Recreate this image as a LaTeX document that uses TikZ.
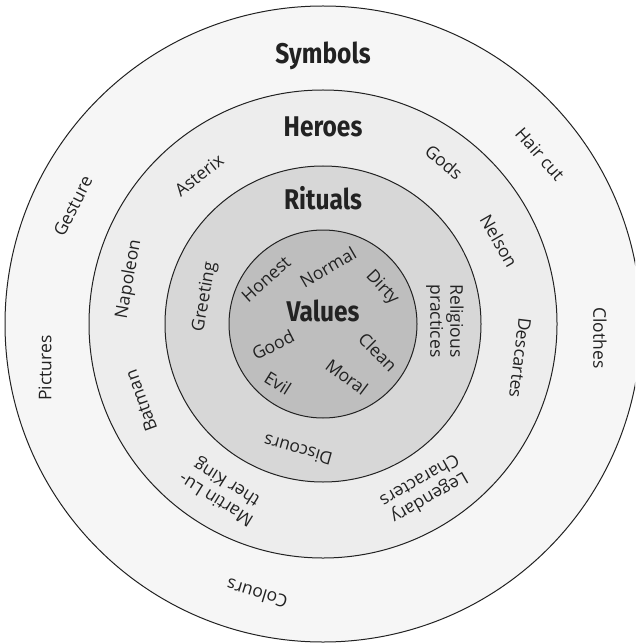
\documentclass[tikz,border=0pt]{standalone}
\usepackage{fontspec}
\setmainfont{Open Sans}
\newfontfamily\headfont{Fira Sans}
\definecolor{symfill}{HTML}{F6F6F6}
\definecolor{herofill}{HTML}{EDEDED}
\definecolor{ritfill}{HTML}{D7D7D7}
\definecolor{valfill}{HTML}{BEBEBE}
\definecolor{ink}{HTML}{222222}
% bold, slightly narrowed title lettering
\newcommand{\layertitle}[1]{\scalebox{0.86}[1]{#1}}
\begin{document}
\begin{tikzpicture}[x=1pt,y=-1pt,
  ring/.style={draw=ink, line width=1pt},
  layer/.style={font=\headfont\bfseries\fontsize{28.5}{30}\selectfont, text=ink, inner sep=0pt},
  item/.style={font=\fontsize{17.5}{20}\selectfont, text=ink, inner sep=0pt, align=center},
]
\useasboundingbox (0,0) rectangle (635,644);
\clip (0,0) rectangle (635,644);
\coordinate (c) at (323,324);

% onion layers, outside in
\filldraw[ring, fill=symfill]  (c) circle[radius=318pt];
\filldraw[ring, fill=herofill] (c) circle[radius=234pt];
\filldraw[ring, fill=ritfill]  (c) circle[radius=158pt];
\filldraw[ring, fill=valfill]  (c) circle[radius=94pt];

% layer titles
\node[layer] (symbols) at (323,56)  {\layertitle{Symbols}};
\node[layer] (heroes)  at (323,127) {\layertitle{Heroes}};
\node[layer] (rituals) at (323,198) {\layertitle{Rituals}};
\node[layer] (values)  at (323,311) {\layertitle{Values}};

% symbols
\node[item, rotate=63]  (gesture)  at (73,206)  {Gesture};
\node[item, rotate=90]  (pictures) at (45,368)  {Pictures};
\node[item, rotate=-49] (haircut)  at (540,154) {Hair cut};
\node[item, rotate=-90] (clothes)  at (600,338) {Clothes};
\node[item, rotate=163] (colours)  at (257,594) {Colours};

% heroes
\node[item, rotate=38]  (asterix)   at (199,175) {Asterix};
\node[item, rotate=80]  (napoleon)  at (129,279) {Napoleon};
\node[item, rotate=110] (batman)    at (141,401) {Batman};
\node[item, rotate=148] (martin)    at (222,490) {Martin Lu-\\ther King};
\node[item, rotate=210] (legendary) at (425,490) {Legendary\\Characters};
\node[item, rotate=-97] (descartes) at (520,358) {Descartes};
\node[item, rotate=-60] (nelson)    at (499,241) {Nelson};
\node[item, rotate=-40] (gods)      at (444,162) {Gods};

% rituals
\node[item, rotate=80]  (greeting)  at (205,297) {Greeting};
\node[item, rotate=-90] (religious) at (445,321) {Religious\\practices};
\node[item, rotate=164] (discours)  at (298,450) {Discours};

% values
\node[item, rotate=42]  (honest) at (266,279) {Honest};
\node[item, rotate=30]  (normal) at (328,267) {Normal};
\node[item, rotate=-47] (dirty)  at (382,288) {Dirty};
\node[item, rotate=27]  (good)   at (273,345) {Good};
\node[item, rotate=-32] (evil)   at (278,383) {Evil};
\node[item, rotate=-45] (clean)  at (378,352) {Clean};
\node[item, rotate=-37] (moral)  at (347,377) {Moral};
\end{tikzpicture}
\end{document}
